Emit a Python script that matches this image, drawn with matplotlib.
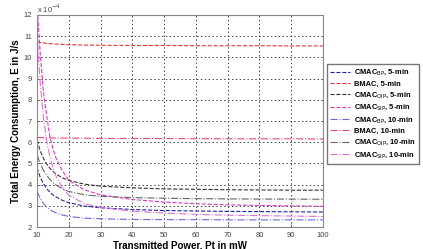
import matplotlib.pyplot as plt

# transmitted power (mW)
pt = [10, 11, 12, 13, 14, 15, 16, 18, 20, 25, 30, 40, 50, 60, 70, 80, 90, 100]

# energy values, x 10^-4 J/s
bp_5    = [4.80, 4.35, 4.05, 3.82, 3.65, 3.52, 3.42, 3.26, 3.15, 2.99, 2.91, 2.83, 2.78, 2.76, 2.74, 2.73, 2.72, 2.71]
bmac_5  = [10.72, 10.70, 10.68, 10.66, 10.65, 10.64, 10.63, 10.61, 10.60, 10.58, 10.57, 10.56, 10.56, 10.55, 10.55, 10.55, 10.54, 10.54]
oip_5   = [6.10, 5.60, 5.25, 4.98, 4.78, 4.62, 4.50, 4.32, 4.20, 4.02, 3.93, 3.85, 3.80, 3.78, 3.76, 3.75, 3.74, 3.74]
sip_5   = [12.5, 10.2, 8.4, 7.3, 6.3, 5.7, 5.25, 4.65, 4.20, 3.75, 3.52, 3.30, 3.18, 3.10, 3.05, 3.02, 3.00, 2.98]
bp_10   = [3.70, 3.35, 3.12, 2.95, 2.83, 2.74, 2.67, 2.57, 2.50, 2.42, 2.39, 2.36, 2.35, 2.35, 2.34, 2.34, 2.34, 2.34]
bmac_10 = [6.22, 6.22, 6.21, 6.21, 6.21, 6.20, 6.20, 6.20, 6.19, 6.19, 6.18, 6.18, 6.17, 6.17, 6.16, 6.16, 6.16, 6.15]
oip_10  = [5.40, 5.00, 4.68, 4.45, 4.26, 4.10, 3.98, 3.80, 3.68, 3.52, 3.45, 3.39, 3.36, 3.34, 3.33, 3.32, 3.32, 3.31]
sip_10  = [11.2, 8.8, 7.2, 6.1, 5.35, 4.8, 4.4, 3.85, 3.50, 3.10, 2.92, 2.75, 2.66, 2.60, 2.56, 2.54, 2.52, 2.50]

series = [
    (bp_5,    r"CMAC$_{\rm BP}$, 5-min",  "#24249c", "--"),
    (bmac_5,  "BMAC, 5-min",              "#e03a3a", "--"),
    (oip_5,   r"CMAC$_{\rm OIP}$, 5-min", "#333333", "--"),
    (sip_5,   r"CMAC$_{\rm SIP}$, 5-min", "#d23cc0", "--"),
    (bp_10,   r"CMAC$_{\rm BP}$, 10-min", "#6a6ad8", "-."),
    (bmac_10, "BMAC, 10-min",             "#e0506a", "-."),
    (oip_10,  r"CMAC$_{\rm OIP}$, 10-min", "#666666", "-."),
    (sip_10,  r"CMAC$_{\rm SIP}$, 10-min", "#e070d4", "-."),
]

plt.rcParams["font.family"] = "Liberation Sans"

fig = plt.figure(figsize=(4.23, 2.49), dpi=100)
ax = fig.add_axes([0.0875, 0.088, 0.676, 0.852])

for vals, label, color, ls in series:
    ax.plot(pt, vals, ls, color=color, lw=0.8, label=label)

ax.set_xlim(10, 100)
ax.set_ylim(2, 12)
ax.set_xticks(range(10, 101, 10))
ax.set_yticks(range(2, 13))
ax.tick_params(labelsize=5.5, colors="#444444", length=2, width=0.5, direction="in")
ax.grid(True, color="#444444", linestyle=(0, (1.5, 2.5)), linewidth=0.7)
for s in ax.spines.values():
    s.set_color("#888888")
    s.set_linewidth(0.8)

ax.text(0.0, 1.01, r"x 10$^{-4}$", transform=ax.transAxes, fontsize=5.5, color="#444444")
ax.set_xlabel("Transmitted Power, Pt in mW", fontsize=7, fontweight="bold", labelpad=1)
ax.set_ylabel("Total Energy Consumption, E in J/s", fontsize=7, fontweight="bold", labelpad=2)

fig.legend(loc="upper left", bbox_to_anchor=(0.772, 0.742),
           prop={"size": 5.4, "weight": "bold"},
           handlelength=2.6, labelspacing=0.4, frameon=True, fancybox=False,
           edgecolor="#555555", borderpad=0.5, handletextpad=0.5, borderaxespad=0)

fig.savefig("out.png", dpi=100)
